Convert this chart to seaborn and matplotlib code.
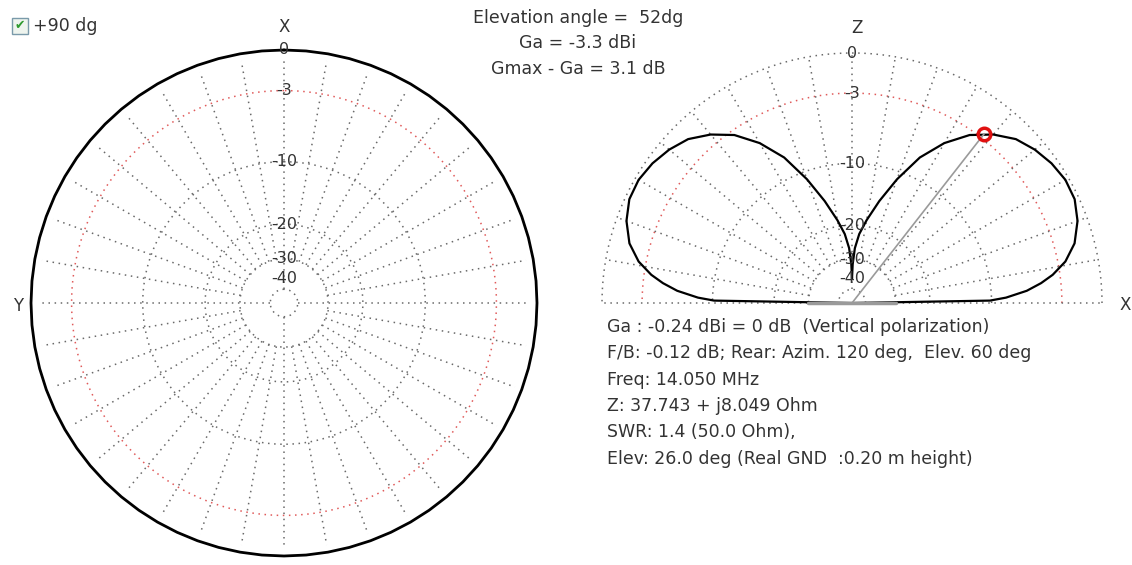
import numpy as np
import matplotlib
matplotlib.use("Agg")
import matplotlib.pyplot as plt
from matplotlib.patches import Rectangle
import seaborn as sns
import pandas as pd

sns.set_theme(style="white")
plt.rcParams['font.family'] = ['DejaVu Sans']

# --- data ---
ring_db = [0, -3, -10, -20, -30, -50]
ring_labels = ["0", "-3", "-10", "-20", "-30", "-40"]
label_db = [0, -3, -10, -20, -30, -40]

# azimuth pattern at 52 dg elevation (omni, normalised to 0 dB)
az_deg = list(range(0, 361, 5))
az_gain_db = [0.0] * len(az_deg)

# elevation pattern, right half (0..90 dg); left half is its mirror
elev_deg = [0, 1, 2, 4, 6, 8, 11, 15, 20, 25, 30, 35, 40, 45, 50, 55, 60,
            65, 70, 75, 80, 84, 87, 89, 90]
elev_gain_db = [-200, -10.2, -8.3, -6.1, -4.7, -3.6, -2.4, -1.4, -0.7, -0.3,
                -0.25, -0.45, -0.8, -1.3, -2.2, -3.4, -5.2, -7.6, -11.0, -14.8,
                -18.7, -22.0, -26.0, -32.0, -40.0]
marker_elev = 52
marker_gain_db = -2.6

title_lines = ["Elevation angle =  52dg", "Ga = -3.3 dBi", "Gmax - Ga = 3.1 dB"]
info_lines = [
    "Ga : -0.24 dBi = 0 dB  (Vertical polarization)",
    "F/B: -0.12 dB; Rear: Azim. 120 deg,  Elev. 60 deg",
    "Freq: 14.050 MHz",
    "Z: 37.743 + j8.049 Ohm",
    "SWR: 1.4 (50.0 Ohm),",
    "Elev: 26.0 deg (Real GND  :0.20 m height)",
]


# ARRL style log scale: 0.89 per 2 dB
def arrl_fwd(db):
    return 0.89 ** (-np.asarray(db, dtype=float) / 2.0)


def arrl_inv(r):
    r = np.maximum(np.asarray(r, dtype=float), 1e-12)
    return -2.0 * np.log(r) / np.log(0.89)


W, H = 1132, 565
fig = plt.figure(figsize=(W / 100, H / 100), dpi=100)
fig.patch.set_facecolor("white")


def px_box(cx, cy, r):
    return [(cx - r) / W, (H - cy - r) / H, 2 * r / W, 2 * r / H]


dot = (0, (1, 3))
grid_col = "#6a6a6a"
red_col = "#e05a5a"
txt_col = "#333333"

# ---------------- left: azimuth plot ----------------
lc, lcy, lr = 284, 303, 253
axl = fig.add_axes(px_box(lc, lcy, lr), projection="polar")
axl.set_rscale("function", functions=(arrl_fwd, arrl_inv))
axl.set_theta_zero_location("N")
full = np.linspace(0, 2 * np.pi, 721)
for db in ring_db[1:]:
    axl.plot(full, [db] * len(full), color=red_col if db == -3 else grid_col,
             ls=dot, lw=1.1, clip_on=False)
for a in range(0, 360, 10):
    inner = -50 if a % 90 == 0 else -30
    axl.plot([np.radians(a)] * 2, [inner, -0.5], color=grid_col, ls=dot, lw=1.1)
df_az = pd.DataFrame({"theta": np.radians(az_deg), "gain": az_gain_db})
sns.lineplot(data=df_az, x="theta", y="gain", ax=axl, sort=False, color="black",
             lw=2, estimator=None, clip_on=False)
axl.set_ylim(-200, 0)
axl.set_axis_off()
for db, lab in zip(label_db, ring_labels):
    axl.text(0, db, lab, ha="center", va="center", fontsize=11.5, color=txt_col)

fig.text(lc / W, 1 - 27 / H, "X", ha="center", va="center", fontsize=12, color=txt_col)
fig.text(18 / W, 1 - 306 / H, "Y", ha="center", va="center", fontsize=12, color=txt_col)

# ---------------- right: elevation plot (upper half only) ----------------
rc, rcy, rr = 852, 303, 250
axr = fig.add_axes(px_box(rc, rcy, rr), projection="polar")
axr.set_rscale("function", functions=(arrl_fwd, arrl_inv))
half = np.linspace(0, np.pi, 361)
for db in ring_db:
    axr.plot(half, [db] * len(half), color=red_col if db == -3 else grid_col,
             ls=dot, lw=1.1, clip_on=False)
for a in range(0, 181, 10):
    inner = -50 if a % 90 == 0 else -30
    axr.plot([np.radians(a)] * 2, [inner, 0], color=grid_col, ls=dot, lw=1.1,
             clip_on=False)

theta_r = np.radians(elev_deg)
theta_l = np.radians([180 - e for e in elev_deg[::-1]])
df_el = pd.DataFrame({
    "theta": np.concatenate([theta_r, theta_l]),
    "gain": elev_gain_db + elev_gain_db[::-1],
})
axr.plot(df_el["theta"], df_el["gain"], color="black", lw=1.6, clip_on=False)
# grey ground strip near the feed point
axr.plot([0, np.pi], [-30, -30], color="#9a9a9a", lw=2.5, clip_on=False)
axr.plot([np.radians(marker_elev)] * 2, [-200, marker_gain_db], color="#9a9a9a", lw=1.2)
axr.plot([np.radians(marker_elev)], [marker_gain_db], marker="o", ms=9, mfc="none",
         mec="#e01010", mew=2.5, clip_on=False)
axr.set_ylim(-200, 0)
axr.set_axis_off()
for db, lab in zip(label_db, ring_labels):
    axr.text(np.pi / 2, db, lab, ha="center", va="center", fontsize=11.5, color=txt_col)

fig.text(857 / W, 1 - 28 / H, "Z", ha="center", va="center", fontsize=12, color=txt_col)
fig.text(1125 / W, 1 - 305 / H, "X", ha="center", va="center", fontsize=12, color=txt_col)

# ---------------- texts ----------------
for i, t in enumerate(title_lines):
    fig.text(578 / W, 1 - (18 + 25.5 * i) / H, t, ha="center", va="center",
             fontsize=12.5, color=txt_col)
for i, t in enumerate(info_lines):
    fig.text(607 / W, 1 - (327 + 26.3 * i) / H, t, ha="left", va="center",
             fontsize=12.5, color=txt_col)

# checkbox
fig.patches.append(Rectangle((12 / W, 1 - 34 / H), 16 / W, 16 / H, transform=fig.transFigure,
                             facecolor="#eef4ee", edgecolor="#7a9aaa", lw=1))
fig.text(20 / W, 1 - 26 / H, "\u2714", ha="center", va="center", fontsize=9,
         color="#2e9a2e")
fig.text(33 / W, 1 - 26 / H, "+90 dg", ha="left", va="center", fontsize=12.5, color=txt_col)

fig.savefig("out.png", dpi=100, facecolor="white")
